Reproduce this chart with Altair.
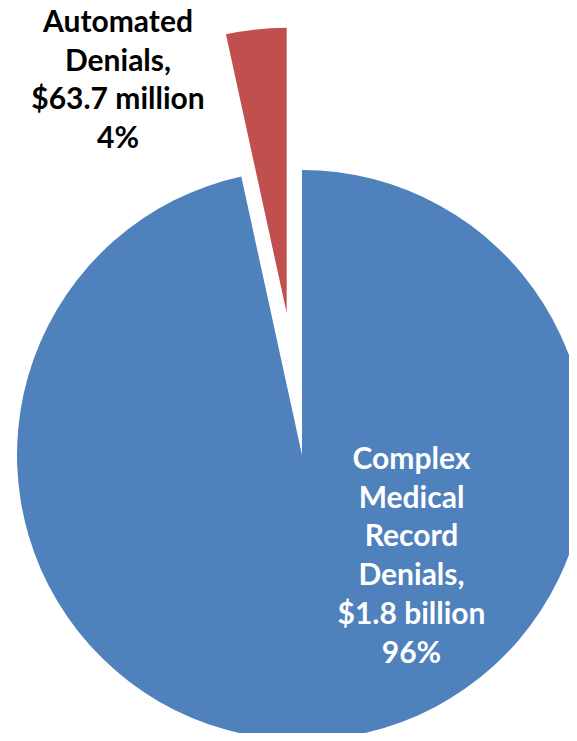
import math
import altair as alt
import pandas as pd

# ---- data ----
categories = ["Complex Medical Record Denials", "Automated Denials"]
values_musd = [1800.0, 63.7]            # $ million
value_text = ["$1.8 billion", "$63.7 million"]
pct_text = ["96%", "4%"]
order = [0, 1]
label_lines = [
    ["Complex", "Medical", "Record", "Denials,", "$1.8 billion", "96%"],
    ["Automated", "Denials,", "$63.7 million", "4%"],
]

# ---- styling / layout constants ----
colors = ["#4F81BD", "#C0504D"]
CX, CY = 294, 447          # pie centre inside the plot area (px)
RADIUS = 285
EXPLODE_CAT = "Automated Denials"
EXPLODE_PX = 143
W, H = 561, 725
FONT = "Lato"
FSIZE = 30
LINE_H = 38.7

df = pd.DataFrame({
    "category": categories,
    "value": values_musd,
    "order": order,
    "label": ["\n".join(l) for l in label_lines],
})

base = alt.Chart(df).transform_window(
    cum="sum(value)", sort=[alt.SortField("order")]
).transform_joinaggregate(
    total="sum(value)"
).transform_calculate(
    t1="datum.cum / datum.total * 2 * PI",
    t0="(datum.cum - datum.value) / datum.total * 2 * PI",
).transform_calculate(
    mid="(datum.t0 + datum.t1) / 2",
    ex=f"datum.category == '{EXPLODE_CAT}' ? {EXPLODE_PX} : 0",
).transform_calculate(
    cx=f"{CX} + datum.ex * sin(datum.mid)",
    cy=f"{CY} - datum.ex * cos(datum.mid)",
)

pie = base.mark_arc(outerRadius=RADIUS).encode(
    x=alt.X("cx:Q", scale=None),
    y=alt.Y("cy:Q", scale=None),
    theta=alt.Theta("t0:Q", scale=None),
    theta2="t1:Q",
    color=alt.Color("category:N", scale=alt.Scale(domain=categories, range=colors), legend=None),
)

def label_layer(cat, x, y, color):
    return alt.Chart(df).transform_filter(
        alt.datum.category == cat
    ).mark_text(
        font=FONT, fontSize=FSIZE, fontWeight="bold", color=color,
        align="center", baseline="alphabetic", lineBreak="\n", lineHeight=LINE_H,
    ).encode(
        x=alt.value(x), y=alt.value(y), text="label:N"
    )

lab_big = label_layer(categories[0], 403.5, 461, "white")
lab_small = label_layer(categories[1], 110, 24, "black")

chart = alt.layer(pie, lab_big, lab_small).properties(
    width=W, height=H, padding=0, autosize="none",
).configure_view(stroke=None)

chart.save("out.html", embed_options={"renderer": "svg", "actions": False})
